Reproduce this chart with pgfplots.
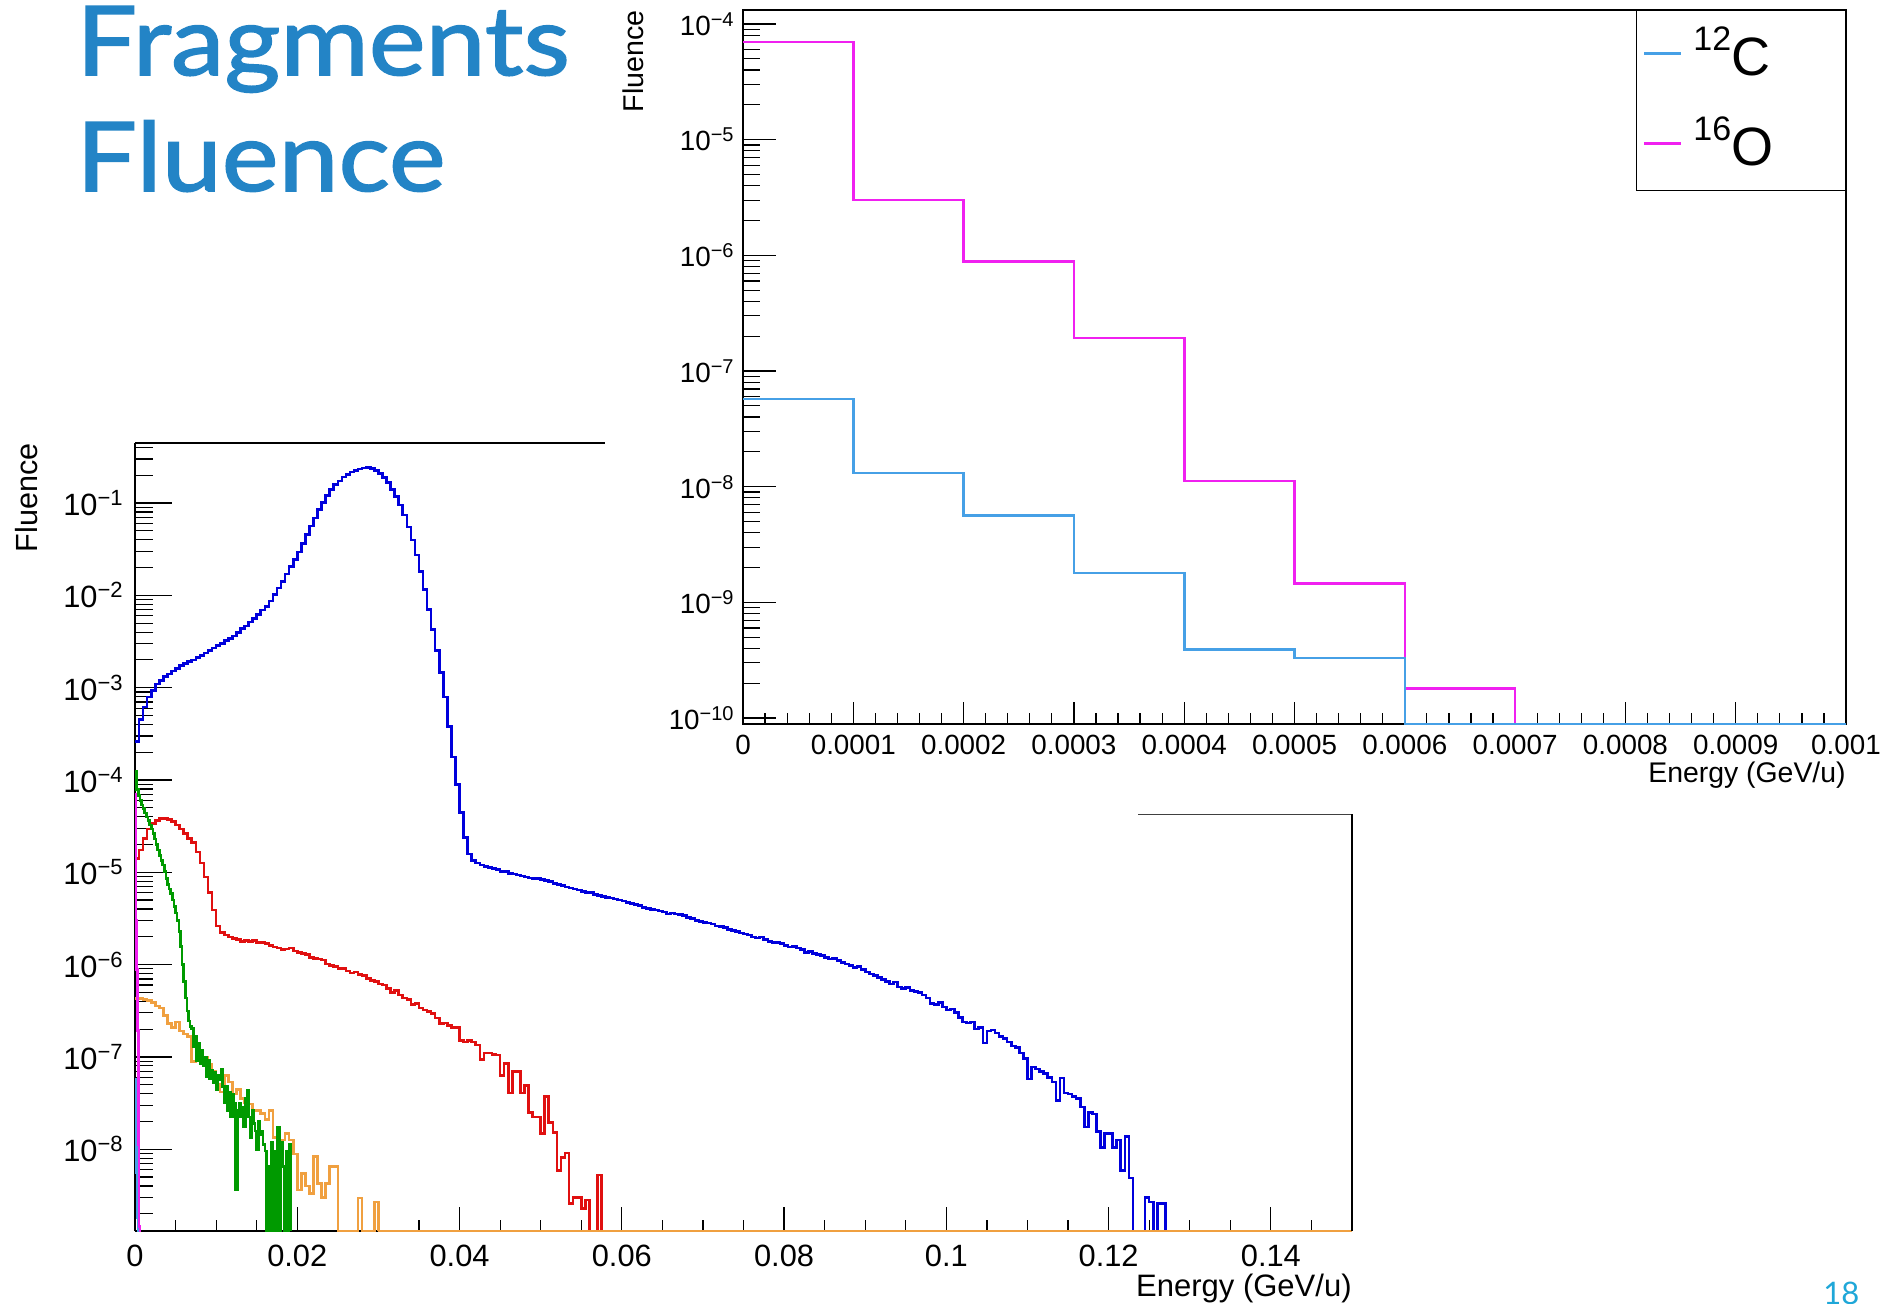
\documentclass[border=0pt]{standalone}
\usepackage{fontspec}
\setmainfont{Liberation Sans}
\newfontfamily\titlefont{Lato}[FakeBold=1.6, FakeStretch=1.12]
\newfontfamily\pagefont{Lato}
\usepackage{pgfplots}
\usepackage{pgfplotstable}
\pgfplotsset{compat=1.18}

\definecolor{hblue}{HTML}{0000DC}
\definecolor{hred}{HTML}{E01010}
\definecolor{hgreen}{HTML}{009A00}
\definecolor{horange}{HTML}{F0A040}
\definecolor{hmag}{HTML}{F020F0}
\definecolor{hazure}{HTML}{46A0E6}
\definecolor{slideblue}{HTML}{2384C6}
\definecolor{pagecyan}{HTML}{1FA7D8}

\newcommand\mainfs{\fontsize{15.4}{15.4}\selectfont}
\newcommand\insetfs{\fontsize{13.9}{13.9}\selectfont}
\newcommand\mainexp[1]{10\raisebox{5pt}{\fontsize{11}{11}\selectfont #1}}
\newcommand\insetexp[1]{10\raisebox{4.5pt}{\fontsize{10}{10}\selectfont #1}}
\newcommand\nuc[2]{\fontsize{27}{27}\selectfont\raisebox{12.5pt}{\fontsize{17}{17}\selectfont #1}#2}

\pgfplotsset{hist/.style={const plot mark left, no marks, line width=1.3pt}}

% ---- main histograms, bin width 0.0005 GeV/u (green: 0.0002, 12C/16O: 0.0001) ----
\pgfplotstableread[row sep=\\]{f\\
2.6e-4\\4.5e-4\\6.2e-4\\7.9e-4\\9.3e-4\\1.10e-3\\1.20e-3\\1.32e-3\\1.41e-3\\1.51e-3\\
1.62e-3\\1.74e-3\\1.82e-3\\1.91e-3\\2.00e-3\\2.11e-3\\2.24e-3\\2.37e-3\\2.51e-3\\2.69e-3\\
2.85e-3\\3.02e-3\\3.24e-3\\3.43e-3\\3.63e-3\\3.98e-3\\4.37e-3\\4.68e-3\\5.13e-3\\5.62e-3\\
6.17e-3\\6.92e-3\\7.59e-3\\8.71e-3\\1.02e-2\\1.20e-2\\1.41e-2\\1.70e-2\\2.04e-2\\2.45e-2\\
2.95e-2\\3.63e-2\\4.57e-2\\5.62e-2\\6.92e-2\\8.51e-2\\1.02e-1\\1.20e-1\\1.41e-1\\1.58e-1\\
1.74e-1\\1.91e-1\\2.04e-1\\2.16e-1\\2.26e-1\\2.34e-1\\2.40e-1\\2.43e-1\\2.37e-1\\2.26e-1\\
2.09e-1\\1.88e-1\\1.66e-1\\1.41e-1\\1.17e-1\\9.55e-2\\7.41e-2\\5.50e-2\\3.98e-2\\2.75e-2\\
1.82e-2\\1.15e-2\\7.08e-3\\4.27e-3\\2.51e-3\\1.45e-3\\7.94e-4\\3.80e-4\\1.78e-4\\8.91e-5\\
4.47e-5\\2.40e-5\\1.58e-5\\1.35e-5\\1.26e-5\\1.20e-5\\1.15e-5\\1.12e-5\\1.10e-5\\1.07e-5\\
1.02e-5\\1.02e-5\\9.77e-6\\9.55e-6\\9.33e-6\\9.12e-6\\8.91e-6\\8.71e-6\\8.51e-6\\8.51e-6\\
8.32e-6\\8.13e-6\\7.94e-6\\7.59e-6\\7.41e-6\\7.24e-6\\6.92e-6\\6.76e-6\\6.61e-6\\6.46e-6\\
6.17e-6\\6.03e-6\\6.03e-6\\5.75e-6\\5.62e-6\\5.50e-6\\5.37e-6\\5.25e-6\\5.13e-6\\5.01e-6\\
4.90e-6\\4.68e-6\\4.57e-6\\4.47e-6\\4.37e-6\\4.17e-6\\4.07e-6\\3.98e-6\\3.89e-6\\3.80e-6\\
3.72e-6\\3.55e-6\\3.63e-6\\3.55e-6\\3.47e-6\\3.39e-6\\3.24e-6\\3.16e-6\\3.02e-6\\2.95e-6\\
2.88e-6\\2.82e-6\\2.75e-6\\2.63e-6\\2.57e-6\\2.51e-6\\2.40e-6\\2.34e-6\\2.29e-6\\2.19e-6\\
2.14e-6\\2.09e-6\\2.00e-6\\1.95e-6\\2.00e-6\\1.86e-6\\1.78e-6\\1.74e-6\\1.74e-6\\1.70e-6\\
1.62e-6\\1.55e-6\\1.58e-6\\1.51e-6\\1.45e-6\\1.35e-6\\1.38e-6\\1.32e-6\\1.29e-6\\1.26e-6\\
1.20e-6\\1.15e-6\\1.17e-6\\1.10e-6\\1.05e-6\\1.02e-6\\9.77e-7\\9.33e-7\\9.55e-7\\8.91e-7\\
8.32e-7\\7.94e-7\\7.59e-7\\7.24e-7\\6.92e-7\\6.61e-7\\6.17e-7\\6.46e-7\\5.75e-7\\5.50e-7\\
5.62e-7\\5.25e-7\\5.13e-7\\5.01e-7\\4.68e-7\\4.37e-7\\3.80e-7\\3.72e-7\\3.89e-7\\3.47e-7\\
3.24e-7\\3.31e-7\\3.02e-7\\2.69e-7\\2.40e-7\\2.34e-7\\2.40e-7\\2.00e-7\\2.09e-7\\1.41e-7\\
1.91e-7\\1.95e-7\\1.82e-7\\1.66e-7\\1.58e-7\\1.45e-7\\1.32e-7\\1.26e-7\\1.10e-7\\9.55e-8\\
5.75e-8\\7.76e-8\\7.41e-8\\6.92e-8\\6.61e-8\\6.03e-8\\5.37e-8\\3.39e-8\\5.89e-8\\4.07e-8\\
3.98e-8\\3.72e-8\\3.55e-8\\2.88e-8\\1.74e-8\\2.51e-8\\2.40e-8\\1.55e-8\\1.05e-8\\1.48e-8\\
1.48e-8\\1.05e-8\\1.26e-8\\5.89e-9\\1.38e-8\\4.90e-9\\1.3e-9\\1.3e-9\\1.3e-9\\3.02e-9\\
2.69e-9\\1.3e-9\\2.57e-9\\2.57e-9\\1.3e-9\\
}\tblue

\pgfplotstableread[row sep=\\]{f\\
1.41e-5\\1.74e-5\\2.34e-5\\2.95e-5\\3.39e-5\\3.63e-5\\3.80e-5\\3.80e-5\\3.72e-5\\3.55e-5\\
3.24e-5\\2.95e-5\\2.63e-5\\2.34e-5\\2.09e-5\\1.66e-5\\1.26e-5\\8.91e-6\\6.03e-6\\3.89e-6\\
2.63e-6\\2.24e-6\\2.09e-6\\2.00e-6\\1.91e-6\\1.86e-6\\1.78e-6\\1.82e-6\\1.78e-6\\1.82e-6\\
1.74e-6\\1.74e-6\\1.70e-6\\1.62e-6\\1.55e-6\\1.51e-6\\1.45e-6\\1.48e-6\\1.51e-6\\1.41e-6\\
1.35e-6\\1.32e-6\\1.29e-6\\1.20e-6\\1.17e-6\\1.15e-6\\1.12e-6\\1.02e-6\\9.77e-7\\9.55e-7\\
9.12e-7\\9.12e-7\\8.51e-7\\8.13e-7\\8.32e-7\\7.76e-7\\7.59e-7\\7.08e-7\\6.76e-7\\6.61e-7\\
6.17e-7\\6.03e-7\\5.50e-7\\5.01e-7\\5.25e-7\\4.68e-7\\4.37e-7\\4.17e-7\\3.72e-7\\3.80e-7\\
3.39e-7\\3.24e-7\\3.09e-7\\2.95e-7\\2.63e-7\\2.29e-7\\2.34e-7\\2.19e-7\\2.09e-7\\2.09e-7\\
1.51e-7\\1.45e-7\\1.51e-7\\1.45e-7\\1.35e-7\\9.33e-8\\1.10e-7\\1.10e-7\\1.07e-7\\1.05e-7\\
6.31e-8\\8.51e-8\\4.07e-8\\6.92e-8\\6.92e-8\\4.07e-8\\4.90e-8\\2.51e-8\\2.24e-8\\2.24e-8\\
1.48e-8\\3.72e-8\\1.95e-8\\1.51e-8\\5.89e-9\\8.13e-9\\9.12e-9\\2.57e-9\\3.02e-9\\3.02e-9\\
2.29e-9\\2.82e-9\\1.3e-9\\1.3e-9\\5.25e-9\\1.3e-9\\
}\tred

\pgfplotstableread[row sep=\\]{f\\
1.23e-4\\7.94e-5\\6.76e-5\\6.03e-5\\5.37e-5\\4.90e-5\\4.37e-5\\3.98e-5\\3.63e-5\\3.24e-5\\
2.95e-5\\2.63e-5\\2.29e-5\\2.00e-5\\1.74e-5\\1.51e-5\\1.35e-5\\1.20e-5\\1.02e-5\\8.51e-6\\
7.41e-6\\6.61e-6\\5.89e-6\\5.01e-6\\4.27e-6\\3.63e-6\\3.02e-6\\2.29e-6\\1.58e-6\\1.00e-6\\
6.61e-7\\4.37e-7\\3.16e-7\\2.45e-7\\2.14e-7\\2.04e-7\\1.29e-7\\1.66e-7\\9.12e-8\\1.41e-7\\
8.51e-8\\1.17e-7\\7.94e-8\\1.00e-7\\6.17e-8\\9.12e-8\\5.75e-8\\7.24e-8\\5.25e-8\\6.76e-8\\
4.37e-8\\6.31e-8\\5.62e-8\\7.41e-8\\4.79e-8\\3.16e-8\\4.79e-8\\2.63e-8\\4.17e-8\\2.24e-8\\
3.89e-8\\3.16e-8\\3.63e-9\\2.63e-8\\3.16e-8\\2.24e-8\\2.88e-8\\1.74e-8\\3.55e-8\\4.37e-8\\
2.24e-8\\1.35e-8\\2.63e-8\\1.91e-8\\1.58e-8\\9.77e-9\\2.00e-8\\1.45e-8\\1.58e-8\\1.12e-8\\
9.55e-9\\1.3e-9\\6.46e-9\\1.3e-9\\1.20e-8\\1.3e-9\\9.55e-9\\1.3e-9\\1.74e-8\\1.3e-9\\
1.20e-8\\6.46e-9\\1.3e-9\\9.55e-9\\1.3e-9\\1.12e-8\\1.3e-9\\
}\tgreen

\pgfplotstableread[row sep=\\]{f\\
4.27e-7\\4.27e-7\\4.17e-7\\4.07e-7\\3.89e-7\\3.55e-7\\3.39e-7\\2.82e-7\\2.29e-7\\2.09e-7\\
2.40e-7\\1.91e-7\\1.78e-7\\1.66e-7\\8.91e-8\\1.20e-7\\9.33e-8\\1.00e-7\\8.32e-8\\6.92e-8\\
5.01e-8\\4.17e-8\\6.31e-8\\5.37e-8\\3.98e-8\\4.47e-8\\3.55e-8\\3.16e-8\\3.09e-8\\2.63e-8\\
2.63e-8\\2.45e-8\\2.09e-8\\2.63e-8\\1.35e-8\\9.77e-9\\1.26e-8\\1.48e-8\\1.26e-8\\8.91e-9\\
3.63e-9\\5.50e-9\\3.98e-9\\3.31e-9\\8.32e-9\\4.27e-9\\3.02e-9\\4.27e-9\\6.46e-9\\6.46e-9\\
1.3e-9\\1.3e-9\\1.3e-9\\1.3e-9\\1.3e-9\\2.95e-9\\1.3e-9\\1.3e-9\\1.3e-9\\2.69e-9\\
1.3e-9\\
}\torange

\pgfplotstableread[row sep=\\]{f\\
7.0e-5\\3.0e-6\\8.8e-7\\1.93e-7\\1.12e-8\\1.45e-9\\1.3e-9\\1.3e-9\\
}\toxymain
\pgfplotstableread[row sep=\\]{f\\
5.74e-8\\1.31e-8\\5.6e-9\\1.8e-9\\1.3e-9\\1.3e-9\\
}\tcarbmain

% ---- low-energy detail, bin width 0.0001 GeV/u ----
\pgfplotstableread[row sep=\\]{f\\
7.0e-5\\3.0e-6\\8.8e-7\\1.93e-7\\1.12e-8\\1.45e-9\\1.79e-10\\8.87e-11\\8.87e-11\\8.87e-11\\8.87e-11\\
}\toxy
\pgfplotstableread[row sep=\\]{f\\
5.74e-8\\1.31e-8\\5.6e-9\\1.8e-9\\3.9e-10\\3.3e-10\\8.87e-11\\8.87e-11\\8.87e-11\\8.87e-11\\8.87e-11\\
}\tcarb

\begin{document}
\begin{tikzpicture}
\path[use as bounding box] (0,0) rectangle (944.5pt,-651.5pt);
\fill[white] (0,0) rectangle (944.5pt,-651.5pt);

% slide title and page number
\node[anchor=base west, inner sep=0pt, text=slideblue,
      font=\titlefont\fontsize{48}{48}\selectfont] at (38pt,-37.5pt) {Fragments};
\node[anchor=base west, inner sep=0pt, text=slideblue,
      font=\titlefont\fontsize{48}{48}\selectfont] at (38pt,-95.5pt) {Fluence};
\node[anchor=base west, inner sep=0pt, text=pagecyan,
      font=\pagefont\fontsize{15.5}{15.5}\selectfont] at (911.5pt,-652pt) {18};

% ---------------- full energy range ----------------
\begin{axis}[
  at={(67.5pt,-615.5pt)}, anchor=south west,
  scale only axis, width=608.5pt, height=394pt,
  xmin=0, xmax=0.15, ymode=log, ymin=1.3e-9, ymax=0.447,
  axis x line*=bottom, axis y line*=left,
  x axis line style={-}, y axis line style={-},
  axis line style={line width=0.75pt},
  tick align=inside, scaled x ticks=false,
  xtick={0,0.02,0.04,0.06,0.08,0.1,0.12,0.14},
  xticklabels={0,0.02,0.04,0.06,0.08,0.1,0.12,0.14},
  minor xtick={0.005,0.01,0.015,0.025,0.03,0.035,0.045,0.05,0.055,0.065,0.07,0.075,
    0.085,0.09,0.095,0.105,0.11,0.115,0.125,0.13,0.135,0.145},
  ytick={1e-8,1e-7,1e-6,1e-5,1e-4,1e-3,1e-2,1e-1},
  yticklabels={\mainexp{−8},\mainexp{−7},\mainexp{−6},\mainexp{−5},\mainexp{−4},\mainexp{−3},\mainexp{−2},\mainexp{−1}},
  minor ytick={2e-9,3e-9,4e-9,5e-9,6e-9,7e-9,8e-9,9e-9,
    2e-8,3e-8,4e-8,5e-8,6e-8,7e-8,8e-8,9e-8,
    2e-7,3e-7,4e-7,5e-7,6e-7,7e-7,8e-7,9e-7,
    2e-6,3e-6,4e-6,5e-6,6e-6,7e-6,8e-6,9e-6,
    2e-5,3e-5,4e-5,5e-5,6e-5,7e-5,8e-5,9e-5,
    2e-4,3e-4,4e-4,5e-4,6e-4,7e-4,8e-4,9e-4,
    2e-3,3e-3,4e-3,5e-3,6e-3,7e-3,8e-3,9e-3,
    2e-2,3e-2,4e-2,5e-2,6e-2,7e-2,8e-2,9e-2,
    2e-1,3e-1,4e-1},
  xtick style={/pgfplots/major tick length=12pt, /pgfplots/minor tick length=5.5pt},
  ytick style={/pgfplots/major tick length=18.5pt, /pgfplots/minor tick length=9pt},
  major tick style={line width=0.6pt, black},
  minor tick style={line width=0.6pt, black},
  xticklabel style={font=\mainfs, inner sep=0pt, yshift=-7pt},
  yticklabel style={font=\mainfs, inner sep=0pt, xshift=-6pt},
  xlabel={Energy (GeV/u)}, ylabel={Fluence},
  every axis x label/.style={at={([yshift=-32.5pt]axis description cs:1,0)}, anchor=base east,
    inner sep=0pt, font=\fontsize{15.5}{15.5}\selectfont},
  every axis y label/.style={at={([xshift=-49pt]axis description cs:0,1)}, rotate=90, anchor=base east,
    inner sep=0pt, font=\fontsize{15.3}{15.3}\selectfont},
]
\addplot[hist, hblue] table[x expr=\coordindex*0.0005, y=f] {\tblue};
\addplot[hist, hred] table[x expr=\coordindex*0.0005, y=f] {\tred};
\addplot[hist, horange] table[x expr=\coordindex*0.0005, y=f] {\torange};
\addplot[hist, horange] coordinates {(0.03,1.3e-9) (0.15,1.3e-9)};
\addplot[hist, hgreen] table[x expr=\coordindex*0.0002, y=f] {\tgreen};
\addplot[hist, hazure] table[x expr=\coordindex*0.0001, y=f] {\tcarbmain};
\addplot[hist, hmag] table[x expr=\coordindex*0.0001, y=f] {\toxymain};
\end{axis}

% visible pieces of the frame around the full-range plot
\draw[line width=0.75pt] (67.5pt,-221.5pt) -- (302.5pt,-221.5pt);
\draw[line width=0.5pt, black!75] (569pt,-407pt) -- (676pt,-407pt);
\draw[line width=0.75pt] (676pt,-407pt) -- (676pt,-615.5pt);

% ---------------- low-energy detail ----------------
\begin{axis}[
  at={(371.5pt,-362pt)}, anchor=south west,
  scale only axis, width=551.5pt, height=357pt,
  xmin=0, xmax=0.001, ymode=log, ymin=8.87e-11, ymax=1.32e-4,
  tick pos=left, tick align=inside, scaled x ticks=false,
  axis line style={line width=0.6pt},
  xtick={0,0.0001,0.0002,0.0003,0.0004,0.0005,0.0006,0.0007,0.0008,0.0009,0.001},
  xticklabels={0,0.0001,0.0002,0.0003,0.0004,0.0005,0.0006,0.0007,0.0008,0.0009,0.001},
  minor x tick num=4,
  ytick={1e-10,1e-9,1e-8,1e-7,1e-6,1e-5,1e-4},
  yticklabels={\insetexp{−10},\insetexp{−9},\insetexp{−8},\insetexp{−7},\insetexp{−6},\insetexp{−5},\insetexp{−4}},
  minor ytick={9e-11,
    2e-10,3e-10,4e-10,5e-10,6e-10,7e-10,8e-10,9e-10,
    2e-9,3e-9,4e-9,5e-9,6e-9,7e-9,8e-9,9e-9,
    2e-8,3e-8,4e-8,5e-8,6e-8,7e-8,8e-8,9e-8,
    2e-7,3e-7,4e-7,5e-7,6e-7,7e-7,8e-7,9e-7,
    2e-6,3e-6,4e-6,5e-6,6e-6,7e-6,8e-6,9e-6,
    2e-5,3e-5,4e-5,5e-5,6e-5,7e-5,8e-5,9e-5},
  xtick style={/pgfplots/major tick length=11pt, /pgfplots/minor tick length=5.5pt},
  ytick style={/pgfplots/major tick length=16.5pt, /pgfplots/minor tick length=8.5pt},
  major tick style={line width=0.6pt, black},
  minor tick style={line width=0.6pt, black},
  xticklabel style={font=\insetfs, inner sep=0pt, yshift=-5.5pt},
  yticklabel style={font=\insetfs, inner sep=0pt, xshift=-4.5pt},
  xlabel={Energy (GeV/u)}, ylabel={Fluence},
  every axis x label/.style={at={([yshift=-29.3pt]axis description cs:1,0)}, anchor=base east,
    inner sep=0pt, font=\fontsize{14.2}{14.2}\selectfont},
  every axis y label/.style={at={([xshift=-50pt]axis description cs:0,1)}, rotate=90, anchor=base east,
    inner sep=0pt, font=\fontsize{14.3}{14.3}\selectfont},
  legend image code/.code={\draw[#1] (0pt,1pt) -- (18.5pt,1pt);},
  legend cell align=left,
  legend style={at={(rel axis cs:1,1)}, anchor=north east, draw=black, line width=0.6pt,
    fill=white, inner xsep=3pt, inner ysep=0pt,
    nodes={inner sep=0pt, text height=32.5pt, text depth=12.5pt, text width=73pt},
    /tikz/every odd column/.append style={column sep=5.5pt}},
]
\addplot[hist, hmag, forget plot] table[x expr=\coordindex*0.0001, y=f] {\toxy};
\addplot[hist, hazure, forget plot] table[x expr=\coordindex*0.0001, y=f] {\tcarb};
\addlegendimage{hazure, line width=1.3pt}
\addlegendentry{\nuc{12}{C}}
\addlegendimage{hmag, line width=1.3pt}
\addlegendentry{\nuc{16}{O}}
\end{axis}
\end{tikzpicture}
\end{document}
